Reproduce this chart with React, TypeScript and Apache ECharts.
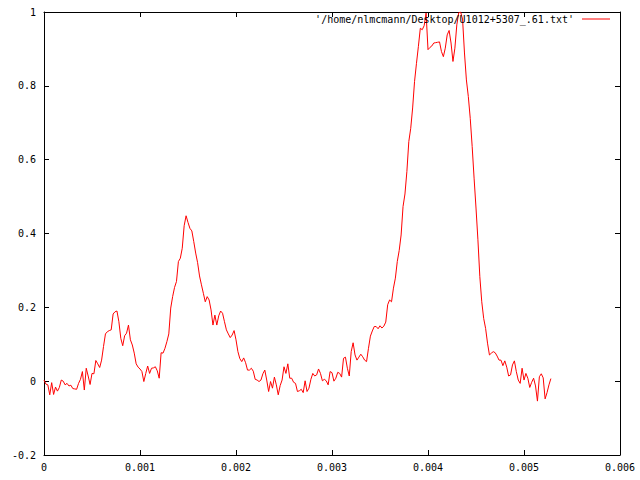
import React, { useEffect, useRef } from "react";
import * as echarts from "echarts";

const X_START = 0;
const X_STEP = 0.00002;
const seriesName = "'/home/nlmcmann/Desktop/U1012+5307_.61.txt'";
const xTickValues = [0, 0.001, 0.002, 0.003, 0.004, 0.005, 0.006];
const yTickValues = [-0.2, 0, 0.2, 0.4, 0.6, 0.8, 1];

const yValues = [
  0.003, -0.008, -0.01, -0.037, -0.004, -0.036, -0.016, -0.027, -0.017, 0.003,
  0.0, -0.01, -0.006, -0.013, -0.011, -0.02, -0.021, -0.022, -0.006, 0.005,
  0.026, -0.024, 0.035, 0.014, -0.009, 0.021, 0.02, 0.056, 0.047, 0.037,
  0.057, 0.094, 0.128, 0.134, 0.137, 0.139, 0.182, 0.188, 0.19, 0.161,
  0.116, 0.096, 0.123, 0.13, 0.152, 0.112, 0.098, 0.076, 0.047, 0.038,
  0.033, 0.026, -0.001, 0.021, 0.041, 0.021, 0.035, 0.036, 0.039, 0.028,
  0.008, 0.077, 0.076, 0.089, 0.107, 0.128, 0.198, 0.229, 0.254, 0.27,
  0.324, 0.333, 0.36, 0.421, 0.448, 0.43, 0.414, 0.407, 0.378, 0.347,
  0.321, 0.285, 0.261, 0.238, 0.215, 0.229, 0.22, 0.193, 0.152, 0.179,
  0.152, 0.177, 0.19, 0.184, 0.161, 0.139, 0.128, 0.118, 0.125, 0.137,
  0.112, 0.08, 0.061, 0.053, 0.063, 0.05, 0.03, 0.03, 0.035, 0.027,
  0.005, 0.003, -0.001, 0.003, 0.02, 0.03, 0.003, -0.028, -0.001, -0.019,
  0.011, -0.01, -0.037, -0.012, 0.003, 0.039, 0.021, 0.047, 0.008, 0.008,
  -0.003, -0.006, -0.028, -0.026, -0.022, -0.031, 0.001, -0.028, -0.019, 0.005,
  0.021, 0.014, 0.017, 0.033, 0.021, 0.001, 0.005, 0.001, -0.01, 0.026,
  0.023, 0.0, 0.008, 0.024, 0.021, 0.011, 0.062, 0.065, 0.035, 0.014,
  0.08, 0.104, 0.071, 0.057, 0.065, 0.073, 0.066, 0.057, 0.053, 0.089,
  0.122, 0.136, 0.148, 0.148, 0.142, 0.15, 0.144, 0.149, 0.16, 0.207,
  0.22, 0.215, 0.252, 0.279, 0.324, 0.354, 0.396, 0.473, 0.507, 0.568,
  0.649, 0.685, 0.74, 0.812, 0.861, 0.907, 0.956, 0.952, 0.963, 0.997,
  0.898, 0.904, 0.908, 0.916, 0.917, 0.918, 0.919, 0.893, 0.879, 0.902,
  0.938, 0.95, 0.916, 0.866, 0.902, 0.965, 0.998, 1.0, 0.981, 0.889,
  0.816, 0.771, 0.712, 0.636, 0.55, 0.469, 0.383, 0.283, 0.215, 0.17,
  0.143, 0.103, 0.071, 0.076, 0.08, 0.077, 0.068, 0.057, 0.057, 0.042,
  0.055, 0.038, 0.014, 0.017, 0.044, 0.055, 0.026, 0.003, -0.006, 0.035,
  0.003, 0.021, 0.008, -0.017, -0.003, 0.008, -0.013, -0.054, 0.012, 0.02,
  0.009, -0.048, -0.031, -0.01, 0.007,
];

const FONT = "DejaVu Sans Mono";

export default function App() {
  const ref = useRef<HTMLDivElement>(null);
  useEffect(() => {
    const chart = echarts.init(ref.current as HTMLDivElement, null, { renderer: "svg" });
    const data = yValues.map((y, i) => [+(X_START + i * X_STEP).toFixed(6), y]);
    const xMin = xTickValues[0];
    const xMax = xTickValues[xTickValues.length - 1];
    const xInt = xTickValues[1] - xTickValues[0];
    const yMin = yTickValues[0];
    const yMax = yTickValues[yTickValues.length - 1];
    const yInt = yTickValues[2] - yTickValues[1];
    const axisLine = { show: true, onZero: false, lineStyle: { color: "#000", width: 1 } };
    const tick = { show: true, inside: true, length: 5, lineStyle: { color: "#000", width: 1 } };
    const label = { color: "#000", fontFamily: FONT, fontSize: 10 };
    chart.setOption({
      animation: false,
      backgroundColor: "#fff",
      grid: { left: 44, right: 20, top: 12, bottom: 25, containLabel: false },
      legend: {
        show: true,
        right: 30,
        top: 14,
        padding: 0,
        align: "right",
        icon: "rect",
        itemWidth: 28,
        itemHeight: 1,
        itemGap: 0,
        textStyle: { color: "#000", fontFamily: FONT, fontSize: 10, padding: [0, 3, 0, 0] },
        data: [seriesName],
      },
      xAxis: [
        {
          type: "value",
          min: xMin,
          max: xMax,
          interval: xInt,
          position: "bottom",
          axisLine,
          axisTick: tick,
          splitLine: { show: false },
          axisLabel: {
            ...label,
            margin: 7,
            formatter: (v: number) => String(+v.toFixed(3)),
          },
        },
        {
          type: "value",
          min: xMin,
          max: xMax,
          interval: xInt,
          position: "top",
          axisLine,
          axisTick: tick,
          splitLine: { show: false },
          axisLabel: { show: false },
        },
      ],
      yAxis: [
        {
          type: "value",
          min: yMin,
          max: yMax,
          interval: yInt,
          position: "left",
          axisLine,
          axisTick: tick,
          splitLine: { show: false },
          axisLabel: {
            ...label,
            margin: 8,
            formatter: (v: number) => String(+v.toFixed(1)),
          },
        },
        {
          type: "value",
          min: yMin,
          max: yMax,
          interval: yInt,
          position: "right",
          axisLine,
          axisTick: tick,
          splitLine: { show: false },
          axisLabel: { show: false },
        },
      ],
      series: [
        {
          name: seriesName,
          type: "line",
          xAxisIndex: 0,
          yAxisIndex: 0,
          data,
          showSymbol: false,
          symbol: "none",
          smooth: false,
          color: "#ff0000",
          lineStyle: { color: "#ff0000", width: 1 },
        },
      ],
    });
    return () => chart.dispose();
  }, []);
  return (
    <div
      ref={ref}
      style={{ position: "absolute", left: 0, top: 0, width: 640, height: 480, background: "#fff" }}
    />
  );
}
